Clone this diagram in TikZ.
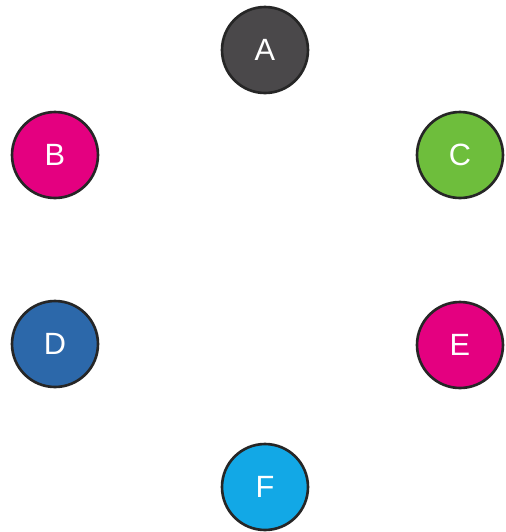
\documentclass[tikz,border=0pt]{standalone}
\usepackage{fontspec}
\setmainfont{Liberation Sans}
\usetikzlibrary{positioning,calc}
\definecolor{NodeGray}{RGB}{74,72,74}
\definecolor{NodeMagenta}{RGB}{228,0,128}
\definecolor{NodeGreen}{RGB}{110,190,60}
\definecolor{NodeBlue}{RGB}{44,104,170}
\definecolor{NodeCyan}{RGB}{18,168,230}
\tikzset{ball/.style={circle,draw=black!85,line width=1.5pt,minimum size=1.72cm,inner sep=0pt,font=\fontsize{17.5}{17.5}\selectfont,text=white}}

\begin{document}
\begin{tikzpicture}[x=0.02cm,y=-0.02cm]
\useasboundingbox (0,0) rectangle (506,532);
\coordinate (pa) at (265,50);
\coordinate (pb) at (55,155);
\coordinate (pc) at (460,155);
\coordinate (pd) at (55,344);
\coordinate (pe) at (460,345);
\coordinate (pf) at (265,487);
\node[ball,fill=NodeGray] (na) at (pa) {A};
\node[ball,fill=NodeMagenta] (nb) at (pb) {B};
\node[ball,fill=NodeGreen] (nc) at (pc) {C};
\node[ball,fill=NodeBlue] (nd) at (pd) {D};
\node[ball,fill=NodeMagenta] (ne) at (pe) {E};
\node[ball,fill=NodeCyan] (nf) at (pf) {F};
\end{tikzpicture}
\end{document}
